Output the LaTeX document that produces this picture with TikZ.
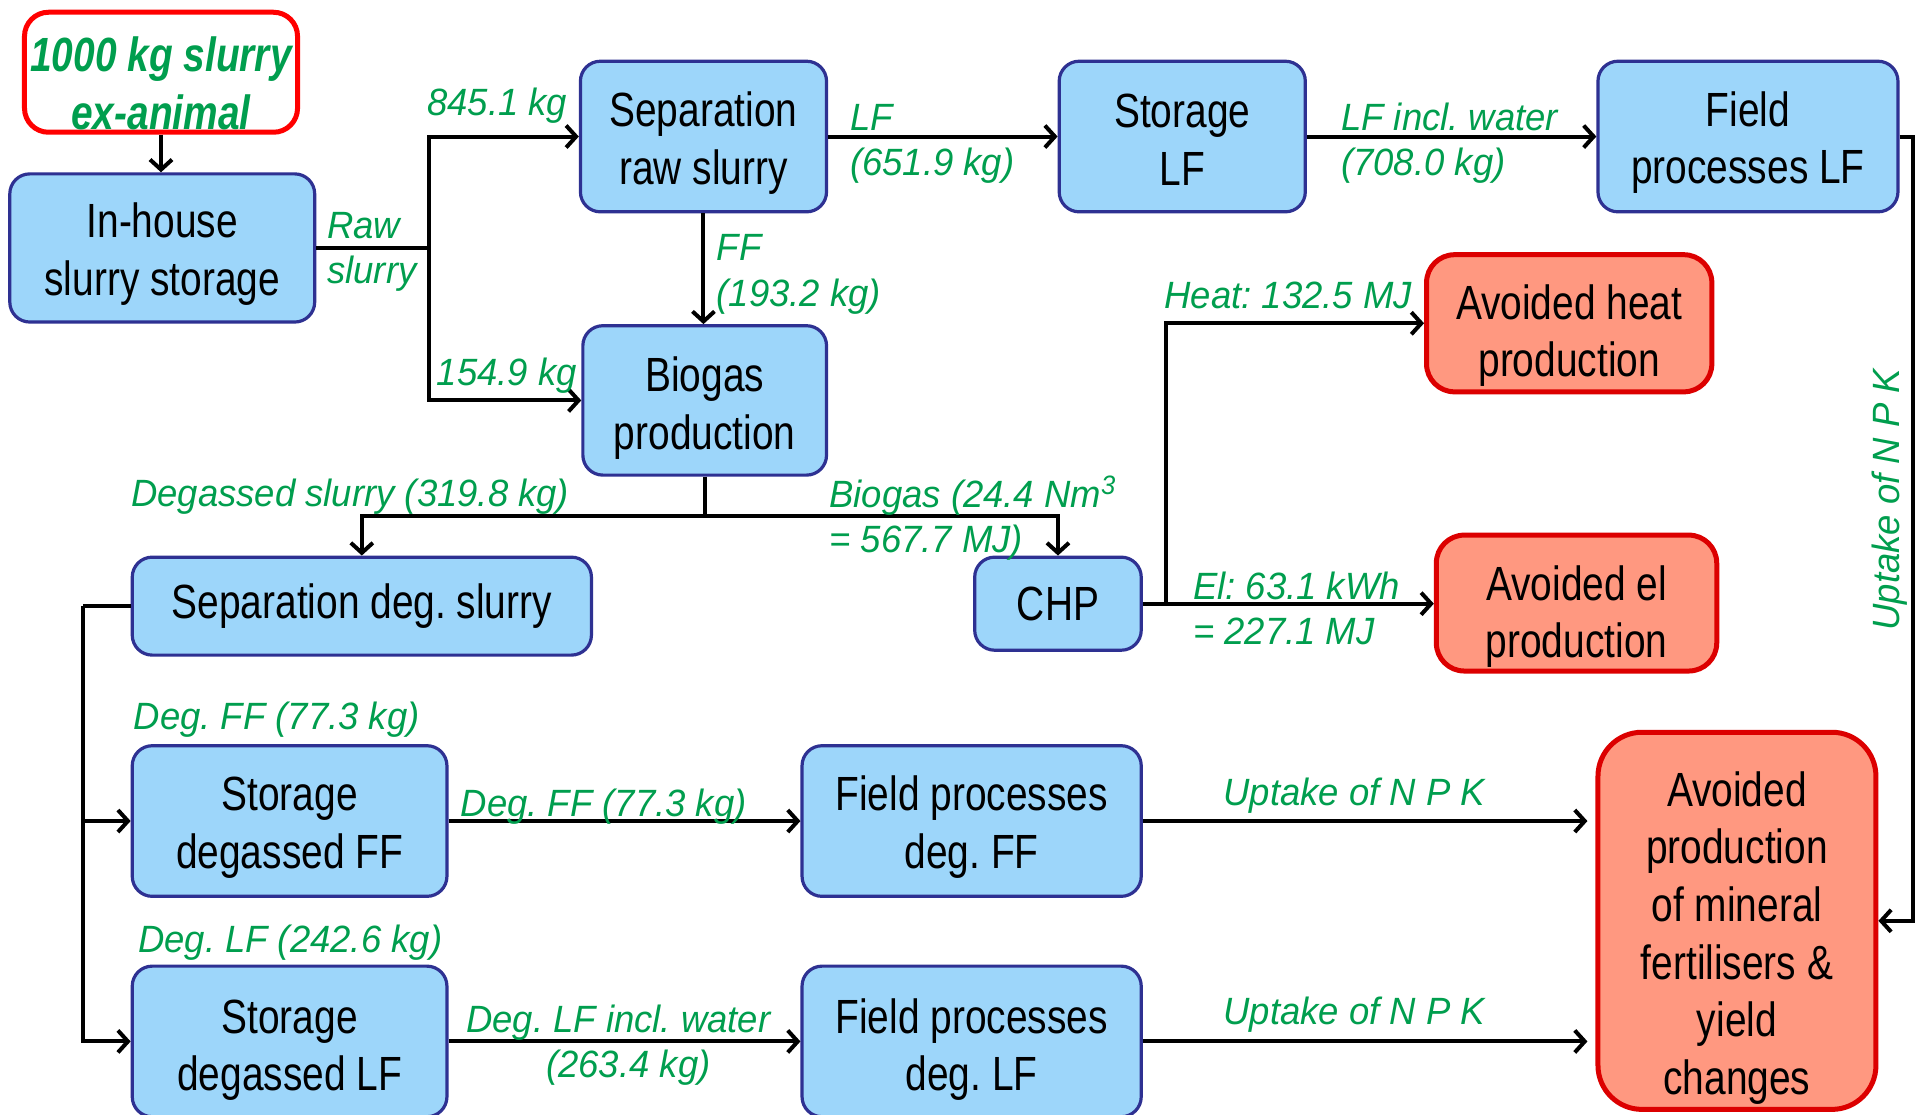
\documentclass[tikz,border=0pt]{standalone}
\usepackage{fontspec}
\setmainfont{Liberation Sans}[FakeStretch=0.81]
\newfontfamily\lblfamily{Liberation Sans}[FakeStretch=0.96]
\usetikzlibrary{arrows.meta}
\definecolor{boxblue}{RGB}{46,49,146}
\definecolor{fillblue}{RGB}{157,214,250}
\definecolor{boxred}{RGB}{220,0,0}
\definecolor{fillred}{RGB}{255,152,128}
\definecolor{topred}{RGB}{255,0,0}
\definecolor{lblgreen}{RGB}{0,158,78}
\newcommand\boxfont{\fontsize{24pt}{28.8pt}\selectfont}
\newcommand\lblfont{\lblfamily\itshape\fontsize{19pt}{22.7pt}\selectfont}
% invisible strut that lowers a text block inside its box
\newcommand\dn[1]{\rule{0pt}{#1pt}}
\frenchspacing

\begin{document}
\begin{tikzpicture}[x=0.61225pt,y=-0.61225pt,
  sz/.style 2 args={minimum width=#1*0.61225pt, minimum height=#2*0.61225pt},
  proc/.style={draw=boxblue, fill=fillblue, line width=1.6pt, rounded corners=10pt,
    align=center, font=\boxfont, inner sep=0pt},
  avoid/.style={draw=boxred, fill=fillred, line width=2.5pt, rounded corners=14pt,
    align=center, font=\boxfont, inner sep=0pt},
  lbl/.style={text=lblgreen, font=\lblfont, inner sep=0pt},
  wire/.style={line width=2pt},
  arr/.style={wire, -{Straight Barb[length=5pt,width=11pt]}}]

\fill[white] (0,0) rectangle (1568,910);
\useasboundingbox (0,0) rectangle (1568,910);

% process boxes
\node[draw=topred, line width=2.5pt, rounded corners=12pt, fill=white, sz={223}{98}] (A) at (131.5,59) {};
\node[text=lblgreen, font=\boxfont\bfseries\itshape, align=center, inner sep=0pt] (Atxt) at (131.5,68) {1000 kg slurry\\ex-animal};
\node[proc, sz={249}{121}] (B) at (132.5,202.5) {\dn{23.6}In-house\\slurry storage};
\node[proc, sz={201}{123}] (C) at (574.5,111.5) {\dn{24.2}Separation\\raw slurry};
\node[proc, sz={201}{123}] (D) at (965.5,111.5) {\dn{20}Storage\\LF};
\node[proc, sz={245}{123}] (E) at (1427.5,111.5) {\dn{23.6}Field\\processes LF};
\node[proc, sz={199}{122}] (F) at (575.5,327) {\dn{24.8}Biogas\\production};
\node[avoid, sz={233}{112}] (G) at (1281.5,264) {\dn{29.7}Avoided heat\\production};
\node[avoid, sz={229}{111}] (H) at (1287.5,492.5) {\dn{31}Avoided el\\production};
\node[proc, sz={375}{80}] (I) at (295.5,495) {Separation deg. slurry};
\node[proc, sz={136}{76}] (J) at (864,493) {CHP};
\node[proc, sz={257}{123}] (K) at (236.5,670.5) {\dn{23.6}Storage\\degassed FF};
\node[proc, sz={277}{123}] (L) at (793.5,670.5) {\dn{23.6}Field processes\\deg. FF};
\node[proc, sz={257}{123}] (M) at (236.5,850.5) {\dn{25.5}Storage\\degassed LF};
\node[proc, sz={277}{123}] (N) at (793.5,850.5) {\dn{25.5}Field processes\\deg. LF};
\node[avoid, rounded corners=22pt, sz={227}{308}] (O) at (1418.5,752) {};
\node[font=\boxfont, align=center, inner sep=0pt] (Otxt) at (1418.5,766) {Avoided\\production\\of mineral\\fertilisers \&\\yield\\changes};

% flows
\draw[arr] (A.south) -- (A.south |- B.north);
\coordinate (jr) at (350,202.5);
\draw[wire] (B.east) -- (jr);
\draw[arr] (jr) |- (C.west);
\draw[arr] (jr) |- (F.west);
\draw[arr] (C.east) -- (D.west);
\draw[arr] (D.east) -- (E.west);
\draw[arr] (C.south) -- (C.south |- F.north);
\coordinate (er) at (1562,111.5);
\draw[arr] (E.east) -- (er) |- (O.east);
\coordinate (fs) at (575.5,421);
\draw[wire] (F.south) -- (fs);
\draw[arr] (fs) -| (I.north);
\draw[arr] (fs) -| (J.north);
\coordinate (jh) at (952,493);
\draw[arr] (J.east) -- (J.east -| H.west);
\draw[arr] (jh) |- (G.west);
\coordinate (il) at (68,495);
\draw[wire] (I.west) -- (il);
\draw[arr] (il) |- (K.west);
\draw[arr] (il) |- (M.west);
\draw[arr] (K.east) -- (L.west);
\draw[arr] (M.east) -- (N.west);
\draw[arr, shorten >=4pt] (L.east) -- (L.east -| O.west);
\draw[arr, shorten >=4pt] (N.east) -- (N.east -| O.west);

% flow labels
\node[lbl] (l845) at (406,86.5) {845.1 kg};
\node[lbl] (l154) at (414,307) {154.9 kg};
\node[lbl, anchor=west, align=left] (lraw) at (267,205.5) {Raw\\slurry};
\node[lbl, anchor=west, align=left] (llf) at (694,117.5) {LF\\(651.9 kg)};
\node[lbl, anchor=west, align=left] (llfw) at (1095,117) {LF incl. water\\(708.0 kg)};
\node[lbl, anchor=west, align=left] (lff) at (585,224) {FF\\(193.2 kg)};
\node[lbl] (lheat) at (1052,241) {Heat: 132.5 MJ};
\node[lbl] (ldeg) at (286,406) {Degassed slurry (319.8 kg)};
\node[lbl, anchor=west, align=left] (lbio) at (677,423.5) {Biogas (24.4 Nm\textsuperscript{3}\\= 567.7 MJ)};
\node[lbl, anchor=west, align=left] (lel) at (974,497) {El: 63.1 kWh\\= 227.1 MJ};
\node[lbl] (ldff1) at (226,588) {Deg.\ FF (77.3 kg)};
\node[lbl] (ldlf1) at (237,770) {Deg.\ LF (242.6 kg)};
\node[lbl] (ldff2) at (493,659) {Deg.\ FF (77.3 kg)};
\node[lbl, align=center] (ldlf2) at (505,853.5) {Deg.\ LF incl. water\\\hspace*{10pt}(263.4 kg)};
\node[lbl] (lup1) at (1106,650) {Uptake of N P K};
\node[lbl] (lup2) at (1106,828.5) {Uptake of N P K};
\node[lbl, rotate=90] (lup3) at (1543,408) {Uptake of N P K};
\end{tikzpicture}
\end{document}
